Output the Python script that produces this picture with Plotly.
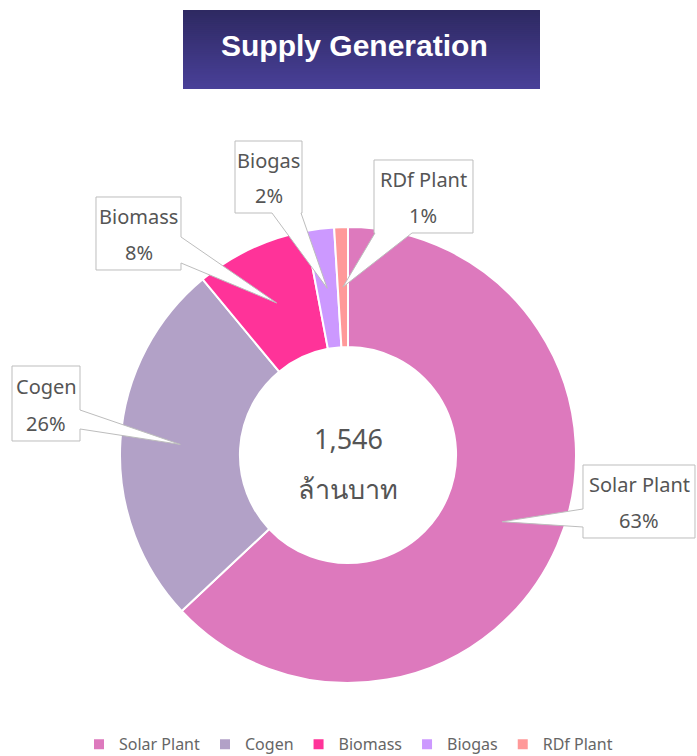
import math
import plotly.graph_objects as go

# ---- data ----
categories = ["Solar Plant", "Cogen", "Biomass", "Biogas", "RDf Plant"]
values = [974, 402, 124, 31, 15]          # million baht
colors = ["#DD79BD", "#B2A1C7", "#FF3399", "#CC99FF", "#FF9999"]
title_text = "Supply Generation"
unit_text = "ล้านบาท"

# ---- layout constants (pixels) ----
W, H = 697, 756
CX, CY, R_OUT = 348, 455, 228
HOLE = 0.474
R_TIP = R_OUT * (1 + HOLE) / 2

# callout boxes: (left, top, right, bottom, side, a, b)
boxes = {
    "Solar Plant": (583, 465, 695, 538, "left", 509, 527),
    "Cogen": (12, 366, 80, 441, "right", 410, 429),
    "Biomass": (96, 197, 181, 270, "right", 237, 263),
    "Biogas": (235, 141, 302, 213, "bottom", 272, 301),
    "RDf Plant": (374, 160, 473, 233, "bottom", 375, 412),
}


def px(x, y):
    return x / W, 1 - y / H


def callout_path(L, T, R, B, side, a, b, tip):
    pts = [(L, T), (R, T)]
    if side == "right":
        pts += [(R, a), tip, (R, b)]
    pts.append((R, B))
    if side == "bottom":
        pts += [(b, B), tip, (a, B)]
    pts.append((L, B))
    if side == "left":
        pts += [(L, b), tip, (L, a)]
    s = ""
    for i, (x, y) in enumerate(pts):
        X, Y = px(x, y)
        s += ("M" if i == 0 else "L") + f"{X:.5f},{Y:.5f} "
    return s + "Z"


def label(text, x, y, size, color="#555555", family="Noto Sans, sans-serif"):
    X, _ = px(x, 0)
    _, Y = px(0, y)
    return dict(text=text, x=X, y=Y, xref="paper", yref="paper", showarrow=False,
                xanchor="center", yanchor="middle",
                font=dict(family=family, size=size, color=color))


total = sum(values)
fig = go.Figure()
fig.add_trace(go.Pie(
    labels=categories, values=values, sort=False, direction="clockwise",
    rotation=0, hole=HOLE,
    marker=dict(colors=colors, line=dict(color="white", width=2)),
    textinfo="none", hoverinfo="label+value+percent",
    domain=dict(x=[(CX - R_OUT) / W, (CX + R_OUT) / W],
                y=[1 - (CY + R_OUT) / H, 1 - (CY - R_OUT) / H]),
))

shapes = []
# title box with vertical gradient (stacked bands, no gaps)
n_band = 40
top, bot, lft, rgt = 10, 89, 183, 540
c0 = (0x2E, 0x29, 0x62)
c1 = (0x49, 0x40, 0x98)
for i in range(n_band):
    t = i / (n_band - 1)
    col = "rgb(%d,%d,%d)" % tuple(round(c0[k] + (c1[k] - c0[k]) * t) for k in range(3))
    y0 = top + (bot - top) * i / n_band
    X0, Y0 = px(lft, y0)
    X1, Y1 = px(rgt, bot)
    shapes.append(dict(type="rect", xref="paper", yref="paper", x0=X0, x1=X1,
                       y0=Y1, y1=Y0, fillcolor=col, line=dict(width=0), layer="above"))

annotations = [
    label(f"<b>{title_text}</b>", 355, 46, 30, "white", "Liberation Sans, Arial"),
    label(f"{total:,}", CX, 438, 27),
    label(unit_text, CX, 488, 27),
]

cum = 0
for cat, v in zip(categories, values):
    mid = (cum + v / 2) / total * 2 * math.pi
    cum += v
    tip = (CX + R_TIP * math.sin(mid), CY - R_TIP * math.cos(mid))
    L, T, Rr, B, side, a, b = boxes[cat]
    shapes.append(dict(type="path", xref="paper", yref="paper",
                       path=callout_path(L, T, Rr, B, side, a, b, tip),
                       fillcolor="white", line=dict(color="#BDBDBD", width=1), layer="above"))
    cx_box = (L + Rr) / 2
    h = B - T
    pct = round(100 * v / total)
    annotations.append(label(cat, cx_box, T + 0.27 * h, 20))
    annotations.append(label(f"{pct}%", cx_box, T + 0.76 * h, 20))

fig.update_layout(
    width=W, height=H, margin=dict(l=0, r=0, t=0, b=0, autoexpand=False),
    paper_bgcolor="white", plot_bgcolor="white",
    shapes=shapes, annotations=annotations,
    showlegend=True,
    legend=dict(orientation="h", x=0.5, xanchor="center", y=-0.007, yanchor="bottom",
                font=dict(family="Noto Sans, sans-serif", size=16, color="#666666"),
                itemwidth=30, traceorder="normal"),
)

fig.write_html("out.html")
